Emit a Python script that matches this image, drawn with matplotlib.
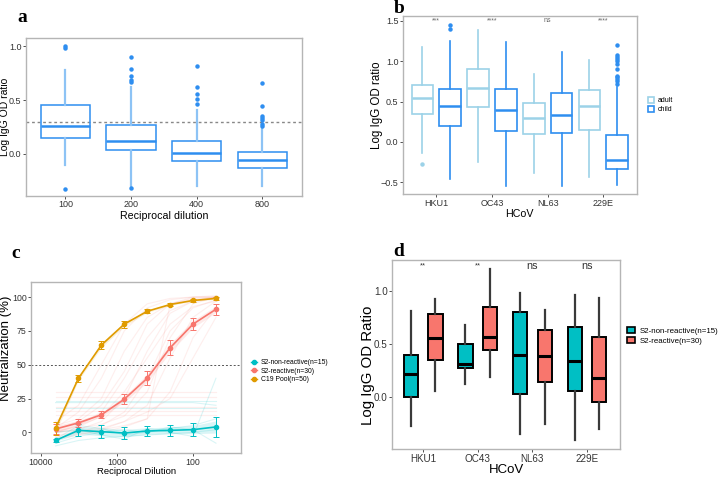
import numpy as np
import matplotlib
matplotlib.use("Agg")
import matplotlib.pyplot as plt
from matplotlib.patches import Patch
from matplotlib.lines import Line2D

# ---- panel a: IgG by reciprocal dilution ----
a_cats = ["100", "200", "400", "800"]
a_q1 = [0.15, 0.04, -0.07, -0.13]
a_med = [0.26, 0.12, 0.01, -0.06]
a_q3 = [0.45, 0.27, 0.12, 0.02]
a_lo = [-0.10, -0.30, -0.30, -0.30]
a_hi = [0.78, 0.62, 0.41, 0.24]
a_fliers = [[1.00, 0.98, -0.33],
            [0.67, 0.69, 0.72, 0.79, 0.90, -0.32],
            [0.46, 0.51, 0.56, 0.62, 0.82],
            [0.26, 0.28, 0.31, 0.33, 0.35, 0.44, 0.66]]
a_cutoff = 0.3

# ---- panel b: adult vs child per HCoV ----
hcov = ["HKU1", "OC43", "NL63", "229E"]
b_adult_q1 = [0.34, 0.43, 0.10, 0.15]
b_adult_med = [0.54, 0.67, 0.29, 0.45]
b_adult_q3 = [0.70, 0.90, 0.48, 0.64]
b_adult_lo = [-0.14, -0.25, -0.38, -0.43]
b_adult_hi = [1.18, 1.38, 0.84, 1.01]
b_adult_fliers = [[-0.27], [], [], []]
b_child_q1 = [0.20, 0.13, 0.11, -0.34]
b_child_med = [0.45, 0.39, 0.33, -0.22]
b_child_q3 = [0.65, 0.65, 0.61, 0.09]
b_child_lo = [-0.46, -0.55, -0.55, -0.53]
b_child_hi = [1.25, 1.24, 1.11, 0.68]
b_child_fliers = [[1.40, 1.45], [], [],
                  [0.72, 0.75, 0.78, 0.80, 0.82, 0.90, 0.97, 1.00, 1.02, 1.05, 1.08, 1.20]]
b_sig = ["***", "****", "ns", "****"]

# ---- panel c: neutralization curves ----
dilutions = [6400, 3200, 1600, 800, 400, 200, 100, 50]
c19_mean = [3, 40, 64.5, 80, 89.5, 94.5, 97.5, 99]
c19_err = [5, 2.5, 3, 2.5, 1.5, 1, 1, 1]
react_mean = [2.5, 7, 13, 24.5, 40, 62.5, 80, 91]
react_err = [4, 3, 2.5, 3.5, 5, 5.5, 4.5, 4]
nonreact_mean = [-6, 1.5, 0.5, -0.5, 1, 1.5, 2, 4]
nonreact_err = [1, 4.5, 5, 4.5, 4, 4, 5, 7.5]
react_indiv = [
    [0, 5, 15, 40, 70, 90, 97, 100],
    [2, 8, 20, 45, 80, 95, 99, 100],
    [-3, 0, 5, 15, 40, 75, 92, 98],
    [0, 2, 8, 25, 60, 88, 97, 99],
    [5, 10, 25, 60, 85, 95, 98, 100],
    [-5, -2, 2, 8, 20, 55, 85, 97],
    [0, 3, 6, 12, 30, 70, 95, 100],
    [3, 15, 40, 75, 92, 98, 100, 100],
    [-2, 0, 2, 5, 10, 30, 70, 92],
    [0, 1, 3, 8, 15, 25, 55, 85],
    [8, 20, 50, 80, 95, 99, 100, 101],
    [-4, -1, 0, 4, 10, 95, 100, 100],
    [1, 4, 12, 30, 55, 80, 93, 97],
    [13, 13, 13, 13, 13, 13, 13, 13],
    [16, 16, 16, 16, 16, 16, 16, 16],
    [19, 19, 19, 19, 19, 19, 19, 19],
    [26, 26, 26, 26, 26, 26, 26, 26],
    [30, 30, 30, 30, 30, 30, 30, 30],
]
nonreact_indiv = [
    [-8, -3, 0, 2, 0, 3, 5, 10],
    [0, 2, -2, -5, 3, 0, -3, 40],
    [22, 22, 22, 22, 22, 22, 22, 20],
    [23.5, 23.5, 23.5, 23.5, 23.5, 23.5, 23.5, 23.5],
    [-5, 5, 3, -2, 0, 4, 2, -8],
    [18, 18, 18, 18, 18, 18, 18, 18],
    [-10, -6, -4, -3, -2, -1, 0, 2],
]

# ---- panel d: S2 reactive vs non-reactive ----
d_non_q1 = [0.00, 0.27, 0.03, 0.06]
d_non_med = [0.22, 0.31, 0.40, 0.34]
d_non_q3 = [0.40, 0.50, 0.80, 0.66]
d_non_lo = [-0.27, 0.12, -0.35, -0.41]
d_non_hi = [0.81, 0.68, 0.98, 0.96]
d_re_q1 = [0.35, 0.44, 0.14, -0.05]
d_re_med = [0.56, 0.57, 0.39, 0.18]
d_re_q3 = [0.78, 0.85, 0.63, 0.57]
d_re_lo = [0.06, 0.19, -0.25, -0.30]
d_re_hi = [0.92, 1.21, 0.82, 0.93]
d_sig = ["**", "**", "ns", "ns"]

BLUE = "#2E8EF0"
LIGHT = "#9CD2E8"
TEAL = "#00BFC4"
RED = "#F8766D"
GOLD = "#E09B00"
SPINE = "#B5B5B5"

plt.rcParams["font.family"] = ["Liberation Sans", "DejaVu Sans"]


def stats(q1, med, q3, lo, hi, fl):
    return [dict(q1=a, med=m, q3=b, whislo=l, whishi=h, fliers=f)
            for a, m, b, l, h, f in zip(q1, med, q3, lo, hi, fl)]


def style(ax, ts=6.5):
    for s in ax.spines.values():
        s.set_color(SPINE)
        s.set_linewidth(1.0)
    ax.tick_params(labelsize=ts, colors="#333333", length=2, width=0.6, pad=1.2)
    for lab in ax.get_xticklabels() + ax.get_yticklabels():
        lab.set_color("#333333")


fig = plt.figure(figsize=(7.22, 4.79), dpi=100)

# panel a
ax = fig.add_axes([0.036, 0.591, 0.382, 0.330])
ax.axhline(a_cutoff, color="#888888", ls=(0, (2, 2)), lw=1.0, zorder=1)
ax.bxp(stats(a_q1, a_med, a_q3, a_lo, a_hi, a_fliers), positions=range(4),
       widths=0.75, showcaps=False, patch_artist=True,
       boxprops=dict(facecolor="none", edgecolor=BLUE, lw=1.1),
       medianprops=dict(color=BLUE, lw=1.8),
       whiskerprops=dict(color="#8DC3F5", lw=1.6),
       flierprops=dict(marker="o", markersize=2.2, markerfacecolor=BLUE,
                       markeredgecolor=BLUE))
ax.set_xticks(range(4))
ax.set_xticklabels(a_cats)
ax.set_xlim(-0.6, 3.6)
ax.set_ylim(-0.39, 1.077)
ax.set_yticks([0.0, 0.5, 1.0])
ax.set_xlabel("Reciprocal dilution", fontsize=7.7, labelpad=1)
ax.set_ylabel("Log IgG OD ratio", fontsize=7.5)
ax.yaxis.set_label_coords(-0.058, 0.5)
style(ax, 6.5)

# panel b
ax = fig.add_axes([0.558, 0.594, 0.324, 0.373])
pos = np.arange(4)
ax.bxp(stats(b_adult_q1, b_adult_med, b_adult_q3, b_adult_lo, b_adult_hi, b_adult_fliers),
       positions=pos - 0.25, widths=0.39, showcaps=False, patch_artist=True,
       boxprops=dict(facecolor="none", edgecolor=LIGHT, lw=1.2),
       medianprops=dict(color=LIGHT, lw=1.8),
       whiskerprops=dict(color=LIGHT, lw=1.2),
       flierprops=dict(marker="o", markersize=2.2, markerfacecolor=LIGHT,
                       markeredgecolor=LIGHT))
ax.bxp(stats(b_child_q1, b_child_med, b_child_q3, b_child_lo, b_child_hi, b_child_fliers),
       positions=pos + 0.25, widths=0.39, showcaps=False, patch_artist=True,
       boxprops=dict(facecolor="none", edgecolor=BLUE, lw=1.2),
       medianprops=dict(color=BLUE, lw=1.8),
       whiskerprops=dict(color=BLUE, lw=1.2),
       flierprops=dict(marker="o", markersize=2.2, markerfacecolor=BLUE,
                       markeredgecolor=BLUE))
for i, s in enumerate(b_sig):
    ax.text(i, 1.5, s, ha="center", va="center", fontsize=5, color="#666666")
ax.set_xticks(pos)
ax.set_xticklabels(hcov)
ax.set_xlim(-0.6, 3.6)
ax.set_ylim(-0.65, 1.56)
ax.set_yticks([-0.5, 0.0, 0.5, 1.0, 1.5])
ax.set_xlabel("HCoV", fontsize=7.7, labelpad=1)
ax.set_ylabel("Log IgG OD ratio", fontsize=8.3)
ax.yaxis.set_label_coords(-0.087, 0.5)
style(ax, 6.5)
ax.legend(handles=[Patch(facecolor="white", edgecolor=LIGHT, lw=1.2, label="adult"),
                   Patch(facecolor="white", edgecolor=BLUE, lw=1.2, label="child")],
          loc="center left", bbox_to_anchor=(1.02, 0.5), frameon=False,
          fontsize=5, handlelength=0.9, handleheight=0.9, handletextpad=0.5,
          labelspacing=0.3)

# panel c
ax = fig.add_axes([0.043, 0.0536, 0.291, 0.357])
for v in react_indiv:
    ax.plot(dilutions, v, color=RED, lw=0.8, alpha=0.12, zorder=1)
for v in nonreact_indiv:
    ax.plot(dilutions, v, color=TEAL, lw=0.8, alpha=0.15, zorder=1)
ax.axhline(50, color="#555555", ls=(0, (2, 2)), lw=0.7, zorder=2)
for m, e, col in [(nonreact_mean, nonreact_err, TEAL),
                  (react_mean, react_err, RED),
                  (c19_mean, c19_err, GOLD)]:
    m = np.array(m, float)
    e = np.array(e, float)
    ax.fill_between(dilutions, m - 0.6 * e, m + 0.6 * e, color=col, alpha=0.15,
                    lw=0, zorder=2)
    ax.errorbar(dilutions, m, yerr=e, color=col, lw=1.2, marker="o",
                markersize=3, capsize=2, elinewidth=0.7, capthick=0.7, zorder=3)
ax.set_xscale("log")
ax.set_xlim(10 ** 4.128, 10 ** 1.368)
ax.set_ylim(-15.5, 110.9)
ax.set_xticks([10000, 1000, 100])
ax.set_xticklabels(["10000", "1000", "100"])
ax.minorticks_off()
ax.set_yticks([0, 25, 50, 75, 100])
ax.set_xlabel("Reciprocal Dilution", fontsize=6.8, labelpad=0.5)
ax.set_ylabel("Neutralization (%)", fontsize=9.5)
ax.yaxis.set_label_coords(-0.09, 0.616)
style(ax, 6.3)
ax.legend(handles=[Line2D([], [], color=TEAL, marker="o", markersize=3, lw=1,
                          label="S2-non-reactive(n=15)"),
                   Line2D([], [], color=RED, marker="o", markersize=3, lw=1,
                          label="S2-reactive(n=30)"),
                   Line2D([], [], color=GOLD, marker="o", markersize=3, lw=1,
                          label="C19 Pool(n=50)")],
          loc="center left", bbox_to_anchor=(1.02, 0.48), frameon=False,
          fontsize=4.9, handlelength=0.8, handletextpad=0.6, labelspacing=0.25)

# panel d
ax = fig.add_axes([0.543, 0.062, 0.316, 0.395])
nofl = [[], [], [], []]
for q1, med, q3, lo, hi, off, col in [
        (d_non_q1, d_non_med, d_non_q3, d_non_lo, d_non_hi, -0.225, TEAL),
        (d_re_q1, d_re_med, d_re_q3, d_re_lo, d_re_hi, 0.225, RED)]:
    ax.bxp(stats(q1, med, q3, lo, hi, nofl), positions=pos + off, widths=0.26,
           showcaps=False, patch_artist=True,
           boxprops=dict(facecolor=col, edgecolor="black", lw=1.4),
           medianprops=dict(color="black", lw=2.2),
           whiskerprops=dict(color="#3A3A3A", lw=1.6))
for i, s in enumerate(d_sig):
    ax.text(i, 1.235, s, ha="center", va="center",
            fontsize=5.5 if s == "**" else 7.8, color="#333333")
ax.set_xticks(pos)
ax.set_xticklabels(hcov)
ax.set_xlim(-0.57, 3.61)
ax.set_ylim(-0.493, 1.29)
ax.set_yticks([0.0, 0.5, 1.0])
ax.set_xlabel("HCoV", fontsize=9.5, labelpad=0)
ax.set_ylabel("Log IgG OD Ratio", fontsize=10.8)
ax.yaxis.set_label_coords(-0.075, 0.445)
style(ax, 7.1)
ax.legend(handles=[Patch(facecolor=TEAL, edgecolor="black", lw=1.2,
                         label="S2-non-reactive(n=15)"),
                   Patch(facecolor=RED, edgecolor="black", lw=1.2,
                         label="S2-reactive(n=30)")],
          loc="center left", bbox_to_anchor=(1.0, 0.6), frameon=False,
          fontsize=5.7, handlelength=1.1, handleheight=0.8, handletextpad=0.5,
          labelspacing=0.3, borderaxespad=0.4)

# panel letters
for x, y, t in [(0.024, 0.963, "a"), (0.545, 0.983, "b"),
                (0.016, 0.470, "c"), (0.545, 0.474, "d")]:
    fig.text(x, y, t, fontsize=14, fontweight="bold", family="Liberation Serif",
             ha="left", va="center")

fig.savefig("out.png", dpi=100)
